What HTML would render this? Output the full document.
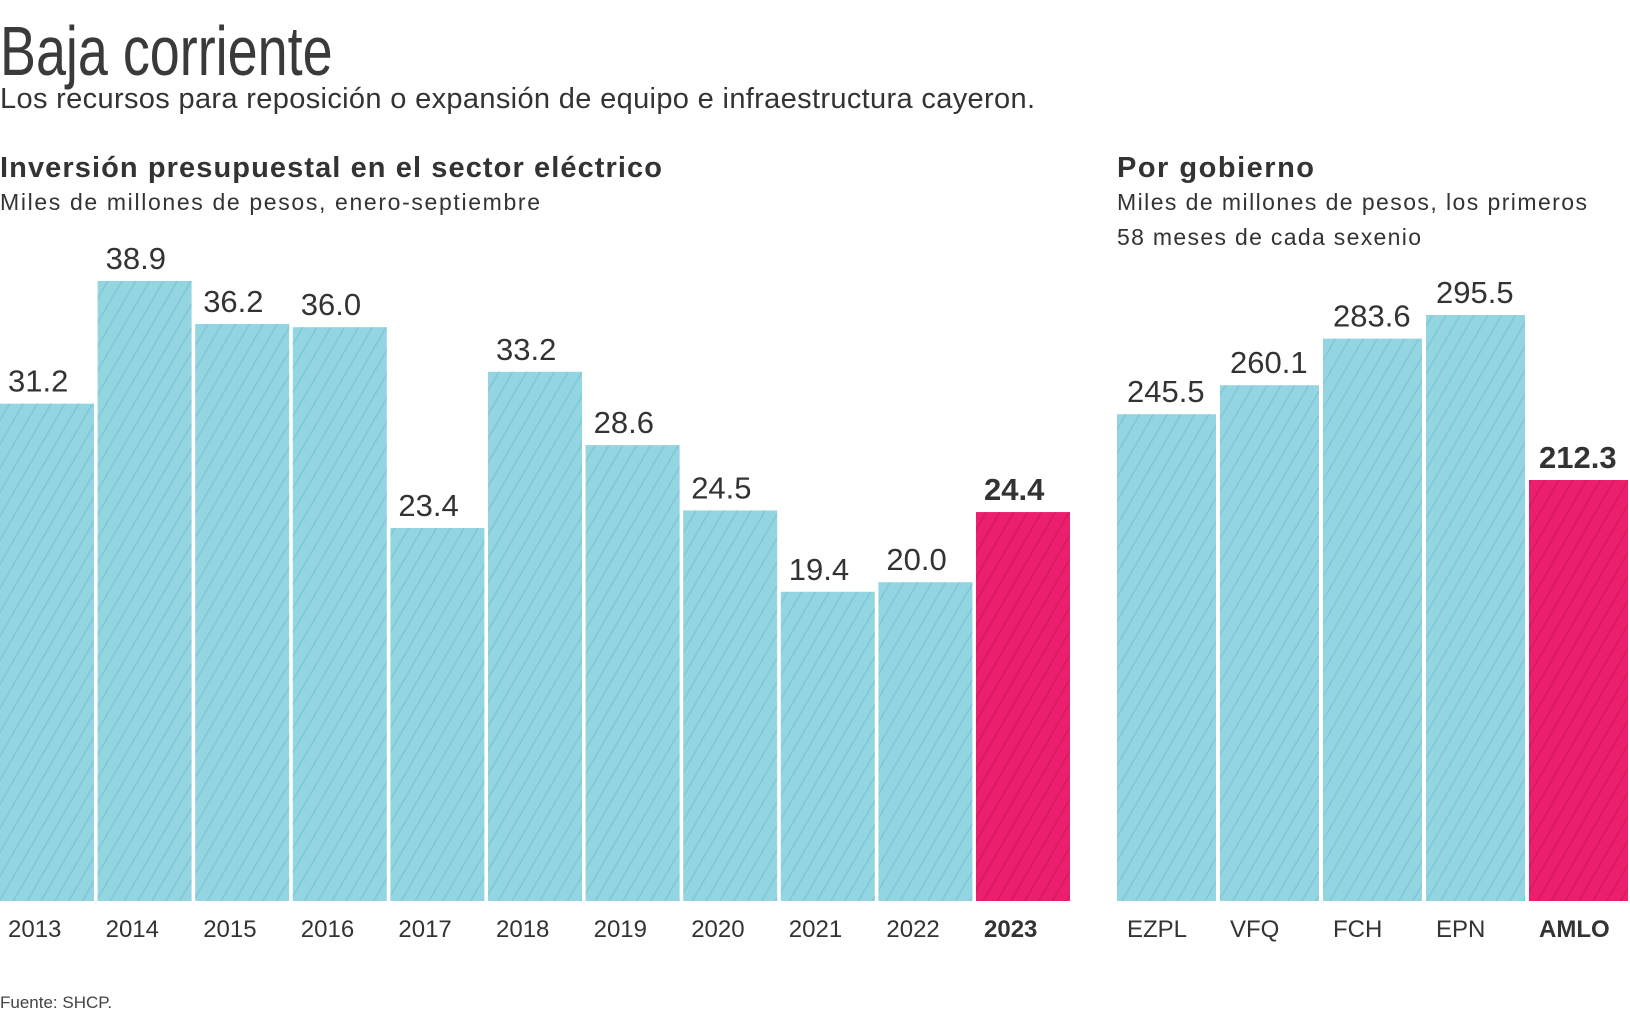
<!DOCTYPE html>
<html><head><meta charset="utf-8"><style>
body{margin:0;background:#fff;}
svg text{font-family:"Liberation Sans",sans-serif;}
</style></head><body>
<svg width="1630" height="1014" viewBox="0 0 1630 1014" xmlns="http://www.w3.org/2000/svg">
<defs>
<pattern id="hb" width="12" height="20" patternUnits="userSpaceOnUse" patternTransform="rotate(30)">
<rect width="12" height="20" fill="#94d5e2"/><line x1="6" y1="0" x2="6" y2="20" stroke="#7fc6d6" stroke-width="1.5"/></pattern>
<pattern id="hp" width="12" height="20" patternUnits="userSpaceOnUse" patternTransform="rotate(30)">
<rect width="12" height="20" fill="#ec1e6e"/><line x1="6" y1="0" x2="6" y2="20" stroke="#d41a5e" stroke-width="1.5"/></pattern>
</defs>
<text x="0" y="75" font-size="70" fill="#3a3a3a" transform="scale(0.77,1)" font-family="Liberation Sans Narrow, Liberation Sans, sans-serif">Baja corriente</text>
<text x="0" y="108" font-size="29" fill="#333" textLength="1035">Los recursos para reposición o expansión de equipo e infraestructura cayeron.</text>
<text x="0" y="177" font-size="29" font-weight="bold" fill="#333" textLength="662">Inversión presupuestal en el sector eléctrico</text>
<text x="0" y="210" font-size="23" fill="#333" textLength="540">Miles de millones de pesos, enero-septiembre</text>
<text x="1117" y="177" font-size="29" font-weight="bold" fill="#333" textLength="197">Por gobierno</text>
<text x="1117" y="210" font-size="23" fill="#333" textLength="470">Miles de millones de pesos, los primeros</text>
<text x="1117" y="245" font-size="23" fill="#333" textLength="304">58 meses de cada sexenio</text>
<g id="left"></g><g id="right"></g>
<text x="0" y="1008" font-size="17" fill="#444">Fuente: SHCP.</text>
</svg>
<script>
const years=["2013","2014","2015","2016","2017","2018","2019","2020","2021","2022","2023"];
const yearVals=[31.2,38.9,36.2,36.0,23.4,33.2,28.6,24.5,19.4,20.0,24.4];
const govs=["EZPL","VFQ","FCH","EPN","AMLO"];
const govVals=[245.5,260.1,283.6,295.5,212.3];
const NS="http://www.w3.org/2000/svg";
const base=901;
function draw(gid,cats,vals,x0,pitch,w,scale,prefix,pad){
  const g=document.getElementById(gid);
  cats.forEach((c,i)=>{
    const hl=i===cats.length-1;
    const h=vals[i]*scale, x=x0+i*pitch;
    const r=document.createElementNS(NS,'rect');
    r.setAttribute('x',x);r.setAttribute('y',base-h);r.setAttribute('width',w);r.setAttribute('height',h);
    r.setAttribute('fill',hl?'url(#hp)':'url(#hb)');
    
    
    g.appendChild(r);
    const t=document.createElementNS(NS,'text');
    t.setAttribute('x',x+pad);t.setAttribute('y',base-h-12);
    t.setAttribute('font-size','31');t.setAttribute('fill','#333');
    if(hl)t.setAttribute('font-weight','bold');
    t.textContent=vals[i].toFixed(1);
    
    
    g.appendChild(t);
    const l=document.createElementNS(NS,'text');
    l.setAttribute('x',x+pad);l.setAttribute('y',937);
    l.setAttribute('font-size','24');l.setAttribute('fill','#333');
    if(hl)l.setAttribute('font-weight','bold');
    l.textContent=c;
    
    
    g.appendChild(l);
  });
}
draw('left',years,yearVals,0,97.6,94,15.94,'year',8);
draw('right',govs,govVals,1117,103,99,1.983,'gov',10);
</script>
</body></html>
